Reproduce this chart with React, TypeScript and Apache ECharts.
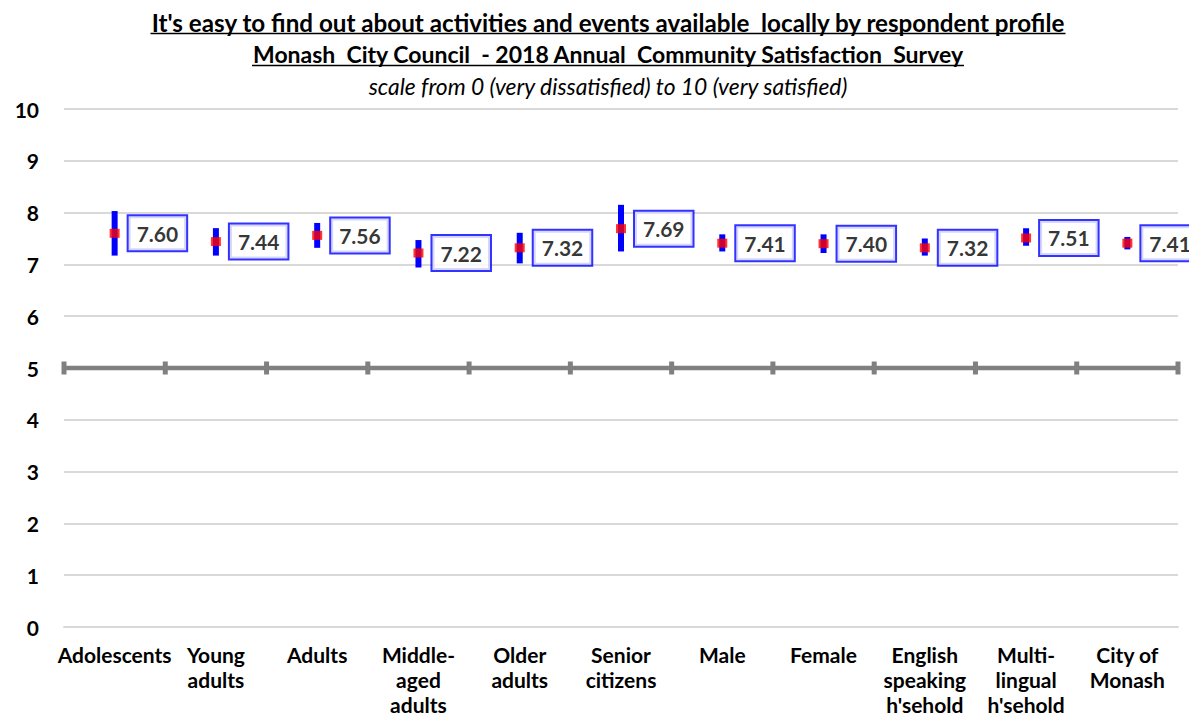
import React, { useEffect, useRef } from "react";
import * as echarts from "echarts";

const categories = [
  "Adolescents",
  "Young\nadults",
  "Adults",
  "Middle-\naged\nadults",
  "Older\nadults",
  "Senior\ncitizens",
  "Male",
  "Female",
  "English\nspeaking\nh'sehold",
  "Multi-\nlingual\nh'sehold",
  "City of\nMonash",
];
const means = [7.6, 7.44, 7.56, 7.22, 7.32, 7.69, 7.41, 7.4, 7.32, 7.51, 7.41];
const lowerBounds = [7.17, 7.17, 7.32, 6.94, 7.02, 7.25, 7.25, 7.22, 7.17, 7.36, 7.29];
const upperBounds = [8.03, 7.7, 7.8, 7.47, 7.61, 8.15, 7.58, 7.58, 7.5, 7.7, 7.53];
const referenceLevel = 5;
const yMin = 0;
const yMax = 10;
const yInterval = 1;

const titleLine1 = "It's easy to find out about activities and events available  locally by respondent profile";
const titleLine2 = "Monash  City Council  - 2018 Annual  Community Satisfaction  Survey";
const titleLine3 = "scale from 0 (very dissatisfied) to 10 (very satisfied)";

const FONT = 'Lato, "Liberation Sans", sans-serif';

function fitSize(text: string, weight: string, style: string, target: number, base: number) {
  try {
    const c = document.createElement("canvas").getContext("2d");
    if (!c) return { size: base, width: target };
    c.font = `${style} ${weight} ${base}px Lato`;
    const w = c.measureText(text).width;
    const size = (base * target) / w;
    return { size, width: target };
  } catch (e) {
    return { size: base, width: target };
  }
}

export default function App() {
  const ref = useRef<HTMLDivElement>(null);
  useEffect(() => {
    if (!ref.current) return;
    const chart = echarts.init(ref.current, null, { renderer: "svg" });
    const cx = 608;
    const t1 = fitSize(titleLine1, "bold", "normal", 915, 20);
    const t2 = fitSize(titleLine2, "bold", "normal", 712, 20);
    const t3 = fitSize(titleLine3, "normal", "italic", 480, 20);

    const option: any = {
      animation: false,
      backgroundColor: "#ffffff",
      textStyle: { fontFamily: FONT },
      graphic: [
        {
          type: "text",
          x: cx,
          y: 22,
          style: {
            text: titleLine1,
            fontFamily: FONT,
            fontWeight: "bold",
            fontSize: t1.size,
            fill: "#000",
            textAlign: "center",
            textVerticalAlign: "middle",
            verticalAlign: "middle",
            align: "center",
          },
        },
        {
          type: "line",
          shape: { x1: cx - t1.width / 2, y1: 33.5, x2: cx + t1.width / 2, y2: 33.5 },
          style: { stroke: "#000", lineWidth: 1.5 },
        },
        {
          type: "text",
          x: cx,
          y: 54,
          style: {
            text: titleLine2,
            fontFamily: FONT,
            fontWeight: "bold",
            fontSize: t2.size,
            fill: "#000",
            align: "center",
            verticalAlign: "middle",
          },
        },
        {
          type: "line",
          shape: { x1: cx - t2.width / 2, y1: 65.5, x2: cx + t2.width / 2, y2: 65.5 },
          style: { stroke: "#000", lineWidth: 1.5 },
        },
        {
          type: "text",
          x: cx,
          y: 86,
          style: {
            text: titleLine3,
            fontFamily: FONT,
            fontStyle: "italic",
            fontSize: t3.size,
            fill: "#000",
            align: "center",
            verticalAlign: "middle",
          },
        },
      ],
      grid: { left: 64, right: 11, top: 109, bottom: 93, containLabel: false },
      xAxis: {
        type: "category",
        data: categories,
        boundaryGap: true,
        axisLine: { show: true, lineStyle: { color: "#d9d9d9", width: 2 } },
        axisTick: { show: false },
        axisLabel: {
          interval: 0,
          color: "#000",
          fontFamily: FONT,
          fontWeight: "bold",
          fontSize: 21,
          lineHeight: 25,
          margin: 15,
          align: "center",
        },
        splitLine: { show: false },
      },
      yAxis: {
        type: "value",
        min: yMin,
        max: yMax,
        interval: yInterval,
        axisLine: { show: false },
        axisTick: { show: false },
        axisLabel: {
          color: "#000",
          fontFamily: FONT,
          fontWeight: "bold",
          fontSize: 21,
          margin: 25,
        },
        splitLine: { show: true, lineStyle: { color: "#d9d9d9", width: 2 } },
      },
      series: [
        {
          type: "custom",
          name: "reference",
          z: 3,
          data: categories.map((_, i) => [i, referenceLevel]),
          renderItem: (params: any, api: any) => {
            const p = api.coord([api.value(0), api.value(1)]);
            const w = api.size([1, 0])[0];
            const x0 = p[0] - w / 2;
            const x1 = p[0] + w / 2;
            const children: any[] = [
              {
                type: "line",
                shape: { x1: x0, y1: p[1], x2: x1, y2: p[1] },
                style: { stroke: "#808080", lineWidth: 4.5 },
              },
              {
                type: "rect",
                shape: { x: x0 - 2.5, y: p[1] - 6.5, width: 5, height: 13 },
                style: { fill: "#808080" },
              },
            ];
            if (params.dataIndex === categories.length - 1) {
              children.push({
                type: "rect",
                shape: { x: x1 - 2.5, y: p[1] - 6.5, width: 5, height: 13 },
                style: { fill: "#808080" },
              });
            }
            return { type: "group", children };
          },
        },
        {
          type: "custom",
          name: "range",
          z: 4,
          data: categories.map((_, i) => [i, lowerBounds[i], upperBounds[i]]),
          renderItem: (params: any, api: any) => {
            const lo = api.coord([api.value(0), api.value(1)]);
            const hi = api.coord([api.value(0), api.value(2)]);
            return {
              type: "rect",
              shape: { x: lo[0] - 3, y: hi[1], width: 6, height: lo[1] - hi[1] },
              style: { fill: "#0000ff" },
            };
          },
        },
        {
          type: "scatter",
          name: "mean",
          z: 5,
          symbol: "rect",
          symbolSize: [10, 9],
          itemStyle: { color: "#ff0000" },
          data: means.map((m, i) => [i, m]),
          label: {
            show: true,
            position: "right",
            distance: 9,
            formatter: (p: any) => Number(p.value[1]).toFixed(2),
            color: "#000",
            fontFamily: FONT,
            fontWeight: "bold",
            fontSize: 21,
            backgroundColor: "#ffffff",
            borderColor: "#0000ff",
            borderWidth: 2,
            padding: [7, 8, 6, 8],
          },
        },
      ],
    };
    chart.setOption(option);
    return () => chart.dispose();
  }, []);
  return (
    <div
      ref={ref}
      style={{ position: "fixed", left: 0, top: 0, width: 1189, height: 720 }}
    />
  );
}
